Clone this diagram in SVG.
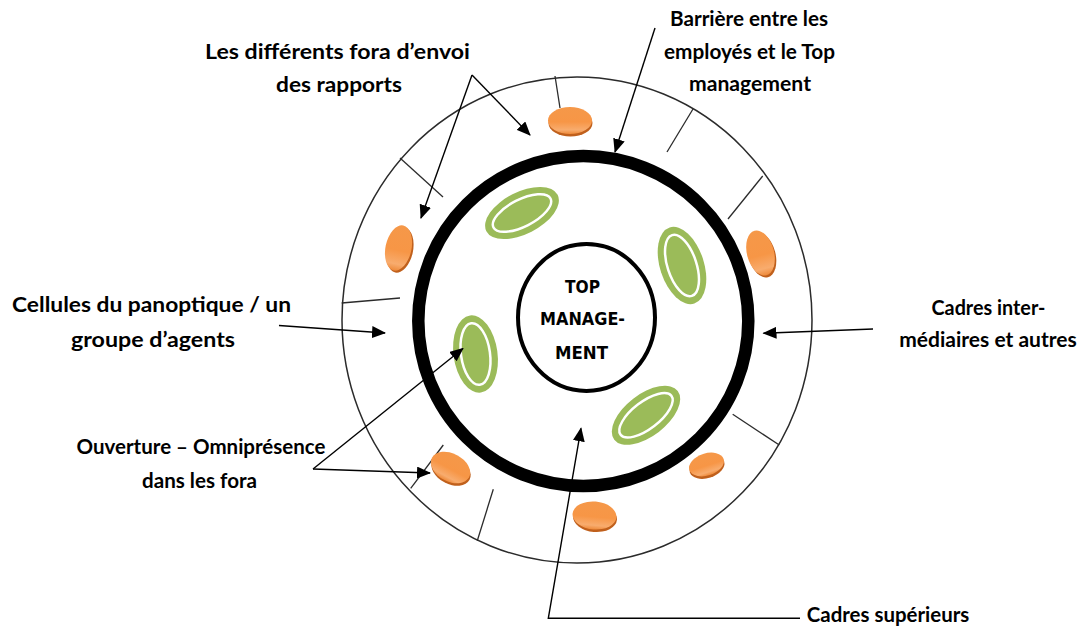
<svg xmlns="http://www.w3.org/2000/svg" width="1081" height="627" viewBox="0 0 1081 627">
<defs>
<style>
.lbl{font-family:Lato,"Open Sans","Liberation Sans",sans-serif;font-weight:700;font-size:20px;fill:#000;text-anchor:middle}
.ctr{font-family:"DejaVu Sans","Liberation Sans",sans-serif;font-weight:700;font-size:17.5px;fill:#000;text-anchor:middle}
.tick{stroke:#2b2b2b;stroke-width:1.3;fill:none}
.con{stroke:#000;stroke-width:1.4;fill:none;marker-end:url(#ah)}
.g-out{fill:#9BBB59}
.g-in{fill:#9BBB59;stroke:#fff;stroke-width:2.5}
.o-sh{fill:#C0601C}
.o-top{fill:url(#og)}
</style>
<linearGradient id="og" x1="0" y1="0" x2="0" y2="1">
<stop offset="0" stop-color="#F59849"/>
<stop offset="0.55" stop-color="#F79646"/>
<stop offset="0.85" stop-color="#F8AC6E"/>
<stop offset="1" stop-color="#EE8A3A"/>
</linearGradient>
<marker id="ah" markerUnits="userSpaceOnUse" markerWidth="14" markerHeight="12" viewBox="0 0 14 12" refX="13" refY="6" orient="auto">
<path d="M0,0 L14,6 L0,12 Z" fill="#000"/>
</marker>
</defs>
<rect width="1081" height="627" fill="#fff"/>

<g id="outer-ring">
<ellipse cx="577" cy="320" rx="235" ry="243" fill="none" stroke="#2b2b2b" stroke-width="1.5"/>
<line class="tick" x1="555" y1="76" x2="560" y2="108"/>
<line class="tick" x1="693" y1="109" x2="667" y2="152"/>
<line class="tick" x1="762.7" y1="176" x2="728" y2="219"/>
<line class="tick" x1="400" y1="158" x2="443" y2="197"/>
<line class="tick" x1="341.7" y1="303" x2="400" y2="298"/>
<line class="tick" x1="443.3" y1="445" x2="410.7" y2="488.3"/>
<line class="tick" x1="493.3" y1="489.3" x2="477.3" y2="540.7"/>
<line class="tick" x1="732.7" y1="414.3" x2="779.3" y2="445"/>
</g>

<g id="barrier">
<circle cx="583.3" cy="321" r="165" fill="none" stroke="#000" stroke-width="12.5"/>
</g>

<g id="top-management">
<ellipse cx="586.5" cy="317.5" rx="68.5" ry="73.5" fill="#fff" stroke="#000" stroke-width="4"/>
<text class="ctr" x="582.5" y="293" textLength="35" lengthAdjust="spacingAndGlyphs">TOP</text>
<text class="ctr" x="582.5" y="325" textLength="85" lengthAdjust="spacingAndGlyphs">MANAGE-</text>
<text class="ctr" x="581.5" y="359" textLength="53" lengthAdjust="spacingAndGlyphs">MENT</text>
</g>

<g id="green-cells">
<g transform="translate(522,213) rotate(-27)"><ellipse class="g-out" rx="40" ry="21"/><ellipse class="g-in" rx="32" ry="13.5"/></g>
<g transform="translate(682,265.5) rotate(-18)"><ellipse class="g-out" rx="22" ry="40"/><ellipse class="g-in" rx="14.5" ry="32"/></g>
<g transform="translate(475.5,354) rotate(-8)"><ellipse class="g-out" rx="22" ry="39"/><ellipse class="g-in" rx="14.5" ry="31"/></g>
<g transform="translate(646,415.3) rotate(-37.5)"><ellipse class="g-out" rx="40" ry="21"/><ellipse class="g-in" rx="32" ry="13.5"/></g>
</g>

<g id="orange-fora">
<g transform="translate(570,120.5)"><ellipse class="o-sh" transform="translate(0.5,2.5)" rx="22" ry="13.5"/><ellipse class="o-top" rx="22" ry="13.5"/></g>
<g transform="translate(398.5,248)"><ellipse class="o-sh" transform="translate(1.5,2) rotate(12)" rx="13" ry="23"/><ellipse class="o-top" transform="rotate(12)" rx="13" ry="23"/></g>
<g transform="translate(760.5,253)"><ellipse class="o-sh" transform="translate(1.5,2) rotate(-15)" rx="13.5" ry="23"/><ellipse class="o-top" transform="rotate(-15)" rx="13.5" ry="23"/></g>
<g transform="translate(450.5,467.5)"><ellipse class="o-sh" transform="translate(0.5,2.5) rotate(28)" rx="21" ry="14"/><ellipse class="o-top" transform="rotate(28)" rx="21" ry="14"/></g>
<g transform="translate(706.5,464.5)"><ellipse class="o-sh" transform="translate(0.5,2.5) rotate(-18)" rx="18" ry="11"/><ellipse class="o-top" transform="rotate(-18)" rx="18" ry="11"/></g>
<g transform="translate(594.5,515.5)"><ellipse class="o-sh" transform="translate(0.5,2.5) rotate(5)" rx="22" ry="14"/><ellipse class="o-top" transform="rotate(5)" rx="22" ry="14"/></g>
</g>

<g id="connectors">
<line class="con" x1="472" y1="75" x2="421" y2="218"/>
<line class="con" x1="472" y1="75" x2="530" y2="135"/>
<line class="con" x1="655" y1="28" x2="615" y2="152"/>
<line class="con" x1="279" y1="325.5" x2="385" y2="333"/>
<line class="con" x1="873" y1="329" x2="763.5" y2="333.3"/>
<line class="con" x1="313" y1="469" x2="463" y2="348.5"/>
<line class="con" x1="313" y1="469" x2="430" y2="473"/>
<polyline class="con" points="800,618.3 548.3,618.3 581,428.3"/>
</g>

<g id="label-fora">
<text class="lbl" x="337.5" y="59" textLength="265" lengthAdjust="spacingAndGlyphs">Les différents fora d’envoi</text>
<text class="lbl" x="339" y="92" textLength="126" lengthAdjust="spacingAndGlyphs">des rapports</text>
</g>
<g id="label-barriere">
<text class="lbl" x="749" y="26" textLength="158" lengthAdjust="spacingAndGlyphs">Barrière entre les</text>
<text class="lbl" x="749.5" y="58.5" textLength="171" lengthAdjust="spacingAndGlyphs">employés et le Top</text>
<text class="lbl" x="750" y="91" textLength="122" lengthAdjust="spacingAndGlyphs">management</text>
</g>
<g id="label-cellules">
<text class="lbl" x="151.5" y="311.5" textLength="279" lengthAdjust="spacingAndGlyphs">Cellules du panoptique / un</text>
<text class="lbl" x="153" y="346.5" textLength="164" lengthAdjust="spacingAndGlyphs">groupe d’agents</text>
</g>
<g id="label-ouverture">
<text class="lbl" x="201" y="454" textLength="249" lengthAdjust="spacingAndGlyphs">Ouverture – Omniprésence</text>
<text class="lbl" x="199.5" y="488" textLength="115" lengthAdjust="spacingAndGlyphs">dans les fora</text>
</g>
<g id="label-intermediaires">
<text class="lbl" x="988.5" y="315" textLength="114" lengthAdjust="spacingAndGlyphs">Cadres inter-</text>
<text class="lbl" x="988" y="347" textLength="177.5" lengthAdjust="spacingAndGlyphs">médiaires et autres</text>
</g>
<g id="label-superieurs">
<text class="lbl" x="888" y="621.5" textLength="162.5" lengthAdjust="spacingAndGlyphs">Cadres supérieurs</text>
</g>
</svg>
